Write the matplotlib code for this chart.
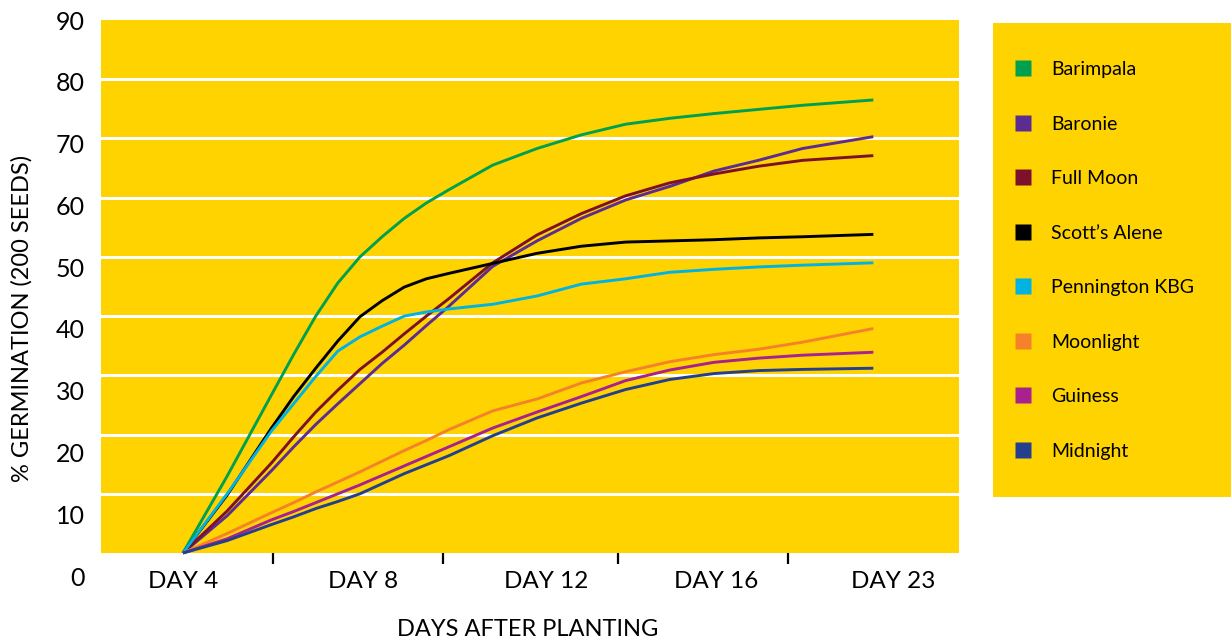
import matplotlib
matplotlib.use("Agg")
import matplotlib.pyplot as plt
from matplotlib.lines import Line2D
from matplotlib.patches import Rectangle

plt.rcParams['font.family'] = ['Lato', 'DejaVu Sans']

# posiciones en el eje x (unidades de categoria: DAY 4 = 0 ... DAY 23 = 4)
x_pos = [0, 0.25, 0.5, 0.625, 0.75, 0.875, 1.0, 1.125, 1.25, 1.375, 1.5, 1.75, 2.0,
         2.25, 2.5, 2.75, 3.0, 3.25, 3.5, 3.9]
day_labels = ['DAY 4', 'DAY 8', 'DAY 12', 'DAY 16', 'DAY 23']
day_pos = [0, 1.02, 2.05, 3.01, 4.01]
tick_marks = [0.51, 1.47, 2.46, 3.42]

barimpala = [0, 13.0, 26.7, 33.5, 40.0, 45.6, 50.0, 53.4, 56.5, 59.1, 61.3, 65.5, 68.3,
             70.6, 72.4, 73.4, 74.2, 74.9, 75.6, 76.5]
baronie = [0, 6.3, 13.9, 17.9, 21.7, 25.2, 28.6, 32.0, 35.1, 38.4, 41.6, 48.4, 52.7,
           56.5, 59.6, 61.9, 64.5, 66.3, 68.3, 70.3]
full_moon = [0, 7.1, 15.2, 19.6, 23.8, 27.5, 31.0, 33.9, 37.0, 40.0, 42.9, 49.0, 53.7,
             57.3, 60.3, 62.5, 64.0, 65.3, 66.3, 67.1]
scotts_alene = [0, 9.8, 21.1, 26.4, 31.2, 35.8, 39.9, 42.6, 44.9, 46.3, 47.2, 48.9, 50.6,
                51.8, 52.5, 52.7, 52.9, 53.2, 53.4, 53.8]
pennington = [0, 10.0, 20.6, 25.2, 29.8, 34.1, 36.5, 38.3, 40.0, 40.7, 41.2, 42.0, 43.4,
              45.4, 46.3, 47.4, 47.9, 48.3, 48.6, 49.0]
moonlight = [0, 3.3, 6.8, 8.5, 10.3, 12.0, 13.7, 15.5, 17.3, 19.0, 20.8, 24.0, 26.0,
             28.7, 30.6, 32.3, 33.5, 34.4, 35.6, 37.9]
guiness = [0, 2.4, 5.6, 7.0, 8.5, 10.0, 11.5, 13.1, 14.7, 16.3, 17.9, 21.1, 23.8,
           26.4, 29.1, 30.9, 32.2, 32.9, 33.4, 33.9]
midnight = [0, 2.1, 4.8, 6.1, 7.5, 8.7, 10.0, 11.7, 13.4, 14.9, 16.4, 19.8, 22.8,
            25.3, 27.6, 29.3, 30.3, 30.8, 31.0, 31.2]

names = ['Barimpala', 'Baronie', 'Full Moon', "Scott\u2019s Alene",
         'Pennington KBG', 'Moonlight', 'Guiness', 'Midnight']
series = [barimpala, baronie, full_moon, scotts_alene, pennington, moonlight, guiness, midnight]
colors = ['#00A050', '#5B2D90', '#7D102A', '#000000',
          '#00B3E3', '#F5822A', '#A8228F', '#243F8E']

amarillo = '#FED300'
W, H = 1231, 641

fig = plt.figure(figsize=(W / 100, H / 100), dpi=100)
ax = fig.add_axes([101 / W, 1 - 553 / H, (959 - 101) / W, (553 - 20) / H])
ax.set_facecolor(amarillo)
for s in ax.spines.values():
    s.set_visible(False)

ax.set_xlim(-0.463, 4.384)
ax.set_ylim(0, 90)

# lineas de cuadricula blancas
ax.set_yticks(range(10, 90, 10))
ax.set_yticklabels([])
ax.tick_params(axis='y', length=0)
ax.grid(axis='y', color='white', linewidth=2.2)
ax.set_axisbelow(True)

ax.set_xticks(day_pos)
ax.set_xticklabels(day_labels, fontsize=17.5)
ax.set_xticks(tick_marks, minor=True)
ax.tick_params(axis='x', which='major', length=0, pad=13)
ax.tick_params(axis='x', which='minor', length=8, width=1.6, color='black', direction='out')

for vals, c in zip(series, colors):
    ax.plot(x_pos, vals, color=c, linewidth=2.1, clip_on=False,
            solid_capstyle='butt', solid_joinstyle='round')

# etiquetas del eje y (espaciado propio del original)
lab = fig.add_axes([101 / W, 1 - 576 / H, 0.001, (576 - 20) / H])
lab.patch.set_visible(False)
for s in lab.spines.values():
    s.set_visible(False)
lab.set_ylim(0, 90)
lab.set_yticks(range(0, 100, 10))
lab.set_xticks([])
lab.tick_params(axis='y', length=0, pad=11.5, labelsize=18)

fig.text(22 / W, 1 - 318 / H, '% GERMINATION (200 SEEDS)', rotation=90,
         ha='center', va='center', fontsize=17)
fig.text(528 / W, 1 - 630 / H, 'DAYS AFTER PLANTING', ha='center', va='center', fontsize=17)

# caja de la leyenda
fig.patches.append(Rectangle((993 / W, 1 - 497 / H), (W - 993) / W, (497 - 23) / H,
                             transform=fig.transFigure, facecolor=amarillo, edgecolor='none'))
handles = [Line2D([], [], linestyle='none', marker='s', markersize=11.5,
                  markerfacecolor=c, markeredgecolor='none') for c in colors]
fig.legend(handles, names, loc='upper left', bbox_to_anchor=(1008 / W, 1 - 61 / H),
           frameon=False, fontsize=14, borderpad=0, borderaxespad=0,
           handlelength=1.5, handletextpad=0.7, labelspacing=1.93)

fig.savefig('out.png', dpi=100)
